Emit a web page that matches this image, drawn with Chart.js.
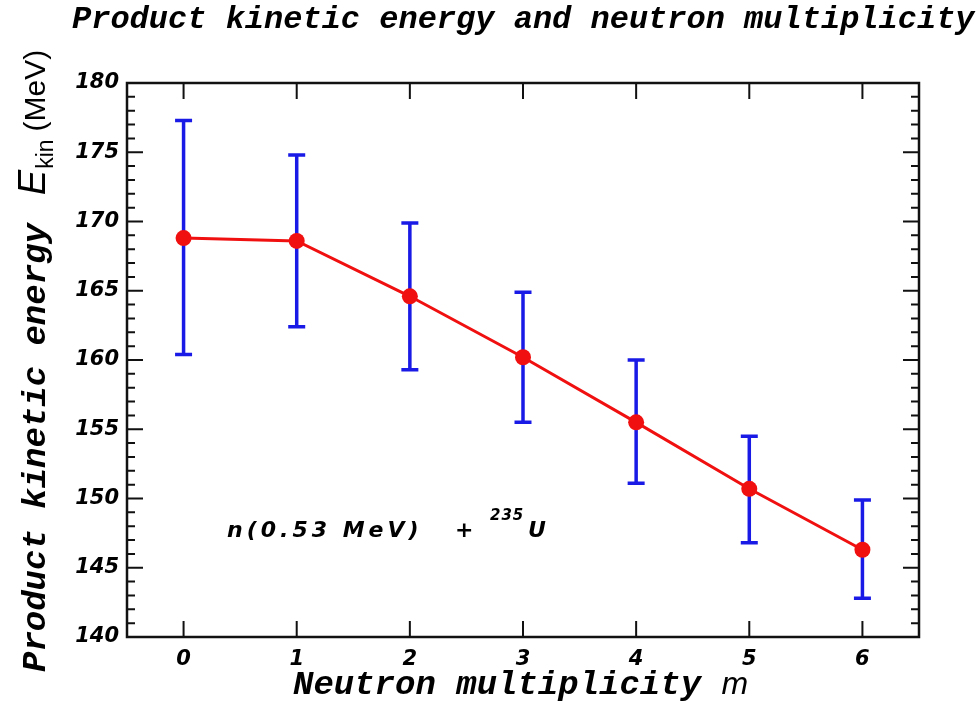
<!DOCTYPE html>
<html>
<head>
<meta charset="utf-8">
<script src="https://cdn.jsdelivr.net/npm/chart.js@4.4.1/dist/chart.umd.min.js"></script>
<style>
  html, body { margin: 0; padding: 0; background: #fff; }
  #wrap { width: 980px; height: 701px; }
</style>
</head>
<body>
<div id="wrap"><canvas id="chart" width="980" height="701"></canvas></div>
<script>
// data
const multiplicity = [0, 1, 2, 3, 4, 5, 6];
const energy  = [168.8, 168.6, 164.6, 160.2, 155.5, 150.7, 146.3];
const errHigh = [177.3, 174.8, 169.9, 164.9, 160.0, 154.5, 149.9];
const errLow  = [160.4, 162.4, 159.3, 155.5, 151.1, 146.8, 142.8];
const xTicks = [0, 1, 2, 3, 4, 5, 6];
const yTicks = [140, 145, 150, 155, 160, 165, 170, 175, 180];

const titleText = 'Product kinetic energy and neutron multiplicity';
const xLabel = 'Neutron multiplicity';
const yLabel = 'Product kinetic energy';

const mono = 'italic bold ';
const monoFam = '"Liberation Mono", "DejaVu Sans Mono", monospace';
const sans = '"Liberation Sans", Arial, sans-serif';
const tickFont = { family: '"DejaVu Sans", Verdana, sans-serif', size: 21, style: 'italic', weight: 'bold' };

// error bars under the line
const errorBars = {
  id: 'errorBars',
  beforeDatasetsDraw(chart) {
    const ctx = chart.ctx;
    const xs = chart.scales.x, ys = chart.scales.y;
    ctx.save();
    ctx.strokeStyle = '#1a1ae6';
    ctx.lineWidth = 3.5;
    for (let i = 0; i < multiplicity.length; i++) {
      const x = xs.getPixelForValue(multiplicity[i]);
      const yt = ys.getPixelForValue(errHigh[i]);
      const yb = ys.getPixelForValue(errLow[i]);
      ctx.beginPath();
      ctx.moveTo(x, yt); ctx.lineTo(x, yb);
      ctx.moveTo(x - 8.5, yt); ctx.lineTo(x + 8.5, yt);
      ctx.moveTo(x - 8.5, yb); ctx.lineTo(x + 8.5, yb);
      ctx.stroke();
    }
    ctx.restore();
  }
};

// frame, inward ticks, titles and note
const decorations = {
  id: 'decorations',
  afterDraw(chart) {
    const ctx = chart.ctx;
    const a = chart.chartArea;
    const xs = chart.scales.x, ys = chart.scales.y;
    ctx.save();
    ctx.strokeStyle = '#111';
    ctx.lineWidth = 2.5;
    ctx.strokeRect(a.left, a.top, a.right - a.left, a.bottom - a.top);

    ctx.lineWidth = 2;
    ctx.beginPath();
    // y ticks, every 1 unit, major every 5
    for (let v = yTicks[0]; v <= yTicks[yTicks.length - 1]; v++) {
      const y = ys.getPixelForValue(v);
      const len = (v % 5 === 0) ? 16 : 8;
      ctx.moveTo(a.left, y); ctx.lineTo(a.left + len, y);
      ctx.moveTo(a.right, y); ctx.lineTo(a.right - len, y);
    }
    xTicks.forEach(v => {
      const x = xs.getPixelForValue(v);
      ctx.moveTo(x, a.bottom); ctx.lineTo(x, a.bottom - 16);
      ctx.moveTo(x, a.top); ctx.lineTo(x, a.top + 16);
    });
    ctx.stroke();

    ctx.fillStyle = '#000';
    ctx.textBaseline = 'alphabetic';
    ctx.textAlign = 'left';

    // title
    ctx.font = mono + '32px ' + monoFam;
    ctx.fillText(titleText, 72, 28);

    // x axis title
    ctx.font = mono + '34px ' + monoFam;
    ctx.fillText(xLabel, 293, 694);
    const wx = ctx.measureText(xLabel + ' ').width;
    ctx.font = 'italic 32px ' + sans;
    ctx.fillText('m', 293 + wx, 694);

    // y axis title, rotated
    ctx.save();
    ctx.translate(45, 672);
    ctx.rotate(-Math.PI / 2);
    ctx.font = mono + '34px ' + monoFam;
    ctx.fillText(yLabel, 0, 0);
    let p = ctx.measureText(yLabel).width + 28;
    ctx.font = 'italic 38px ' + sans;
    ctx.fillText('E', p, 0);
    p += ctx.measureText('E').width + 1;
    ctx.font = '23px ' + sans;
    ctx.fillText('kin', p, 8);
    p += ctx.measureText('kin').width + 8;
    ctx.font = '30px ' + sans;
    ctx.fillText('(MeV)', p, 0);
    ctx.restore();

    // reaction note
    ctx.font = 'italic bold 22px "DejaVu Sans", Verdana, sans-serif';
    ctx.letterSpacing = '4px';
    ctx.fillText('n(0.53 MeV)', 227, 537);
    ctx.letterSpacing = '0px';
    ctx.fillText('+', 455, 537);
    ctx.font = 'italic bold 15px "DejaVu Sans", Verdana, sans-serif';
    ctx.letterSpacing = '1px';
    ctx.fillText('235', 490, 520);
    ctx.font = 'italic bold 22px "DejaVu Sans", Verdana, sans-serif';
    ctx.letterSpacing = '0px';
    ctx.fillText('U', 528, 537);
    ctx.restore();
  }
};

new Chart(document.getElementById('chart'), {
  type: 'line',
  data: {
    datasets: [{
      data: multiplicity.map((m, i) => ({ x: m, y: energy[i] })),
      borderColor: '#f01010',
      backgroundColor: '#f01010',
      borderWidth: 3,
      pointRadius: 8,
      pointBorderWidth: 0,
      pointBackgroundColor: '#f01010',
      tension: 0
    }]
  },
  options: {
    responsive: false,
    devicePixelRatio: 1,
    animation: false,
    layout: { padding: { top: 83, right: 61, left: 0, bottom: 0 } },
    plugins: { legend: { display: false }, tooltip: { enabled: false }, title: { display: false } },
    scales: {
      x: {
        type: 'linear',
        min: -0.5,
        max: 6.5,
        afterBuildTicks: s => { s.ticks = xTicks.map(v => ({ value: v })); },
        afterFit: s => { s.height = 64; },
        grid: { display: false, drawTicks: false },
        border: { display: false },
        ticks: { color: '#000', font: tickFont, padding: 10, maxRotation: 0 }
      },
      y: {
        type: 'linear',
        min: 140,
        max: 180,
        afterBuildTicks: s => { s.ticks = yTicks.map(v => ({ value: v })); },
        afterFit: s => { s.width = 127; },
        grid: { display: false, drawTicks: false },
        border: { display: false },
        ticks: { color: '#000', font: tickFont, padding: 8 }
      }
    }
  },
  plugins: [errorBars, decorations]
});
</script>
</body>
</html>
